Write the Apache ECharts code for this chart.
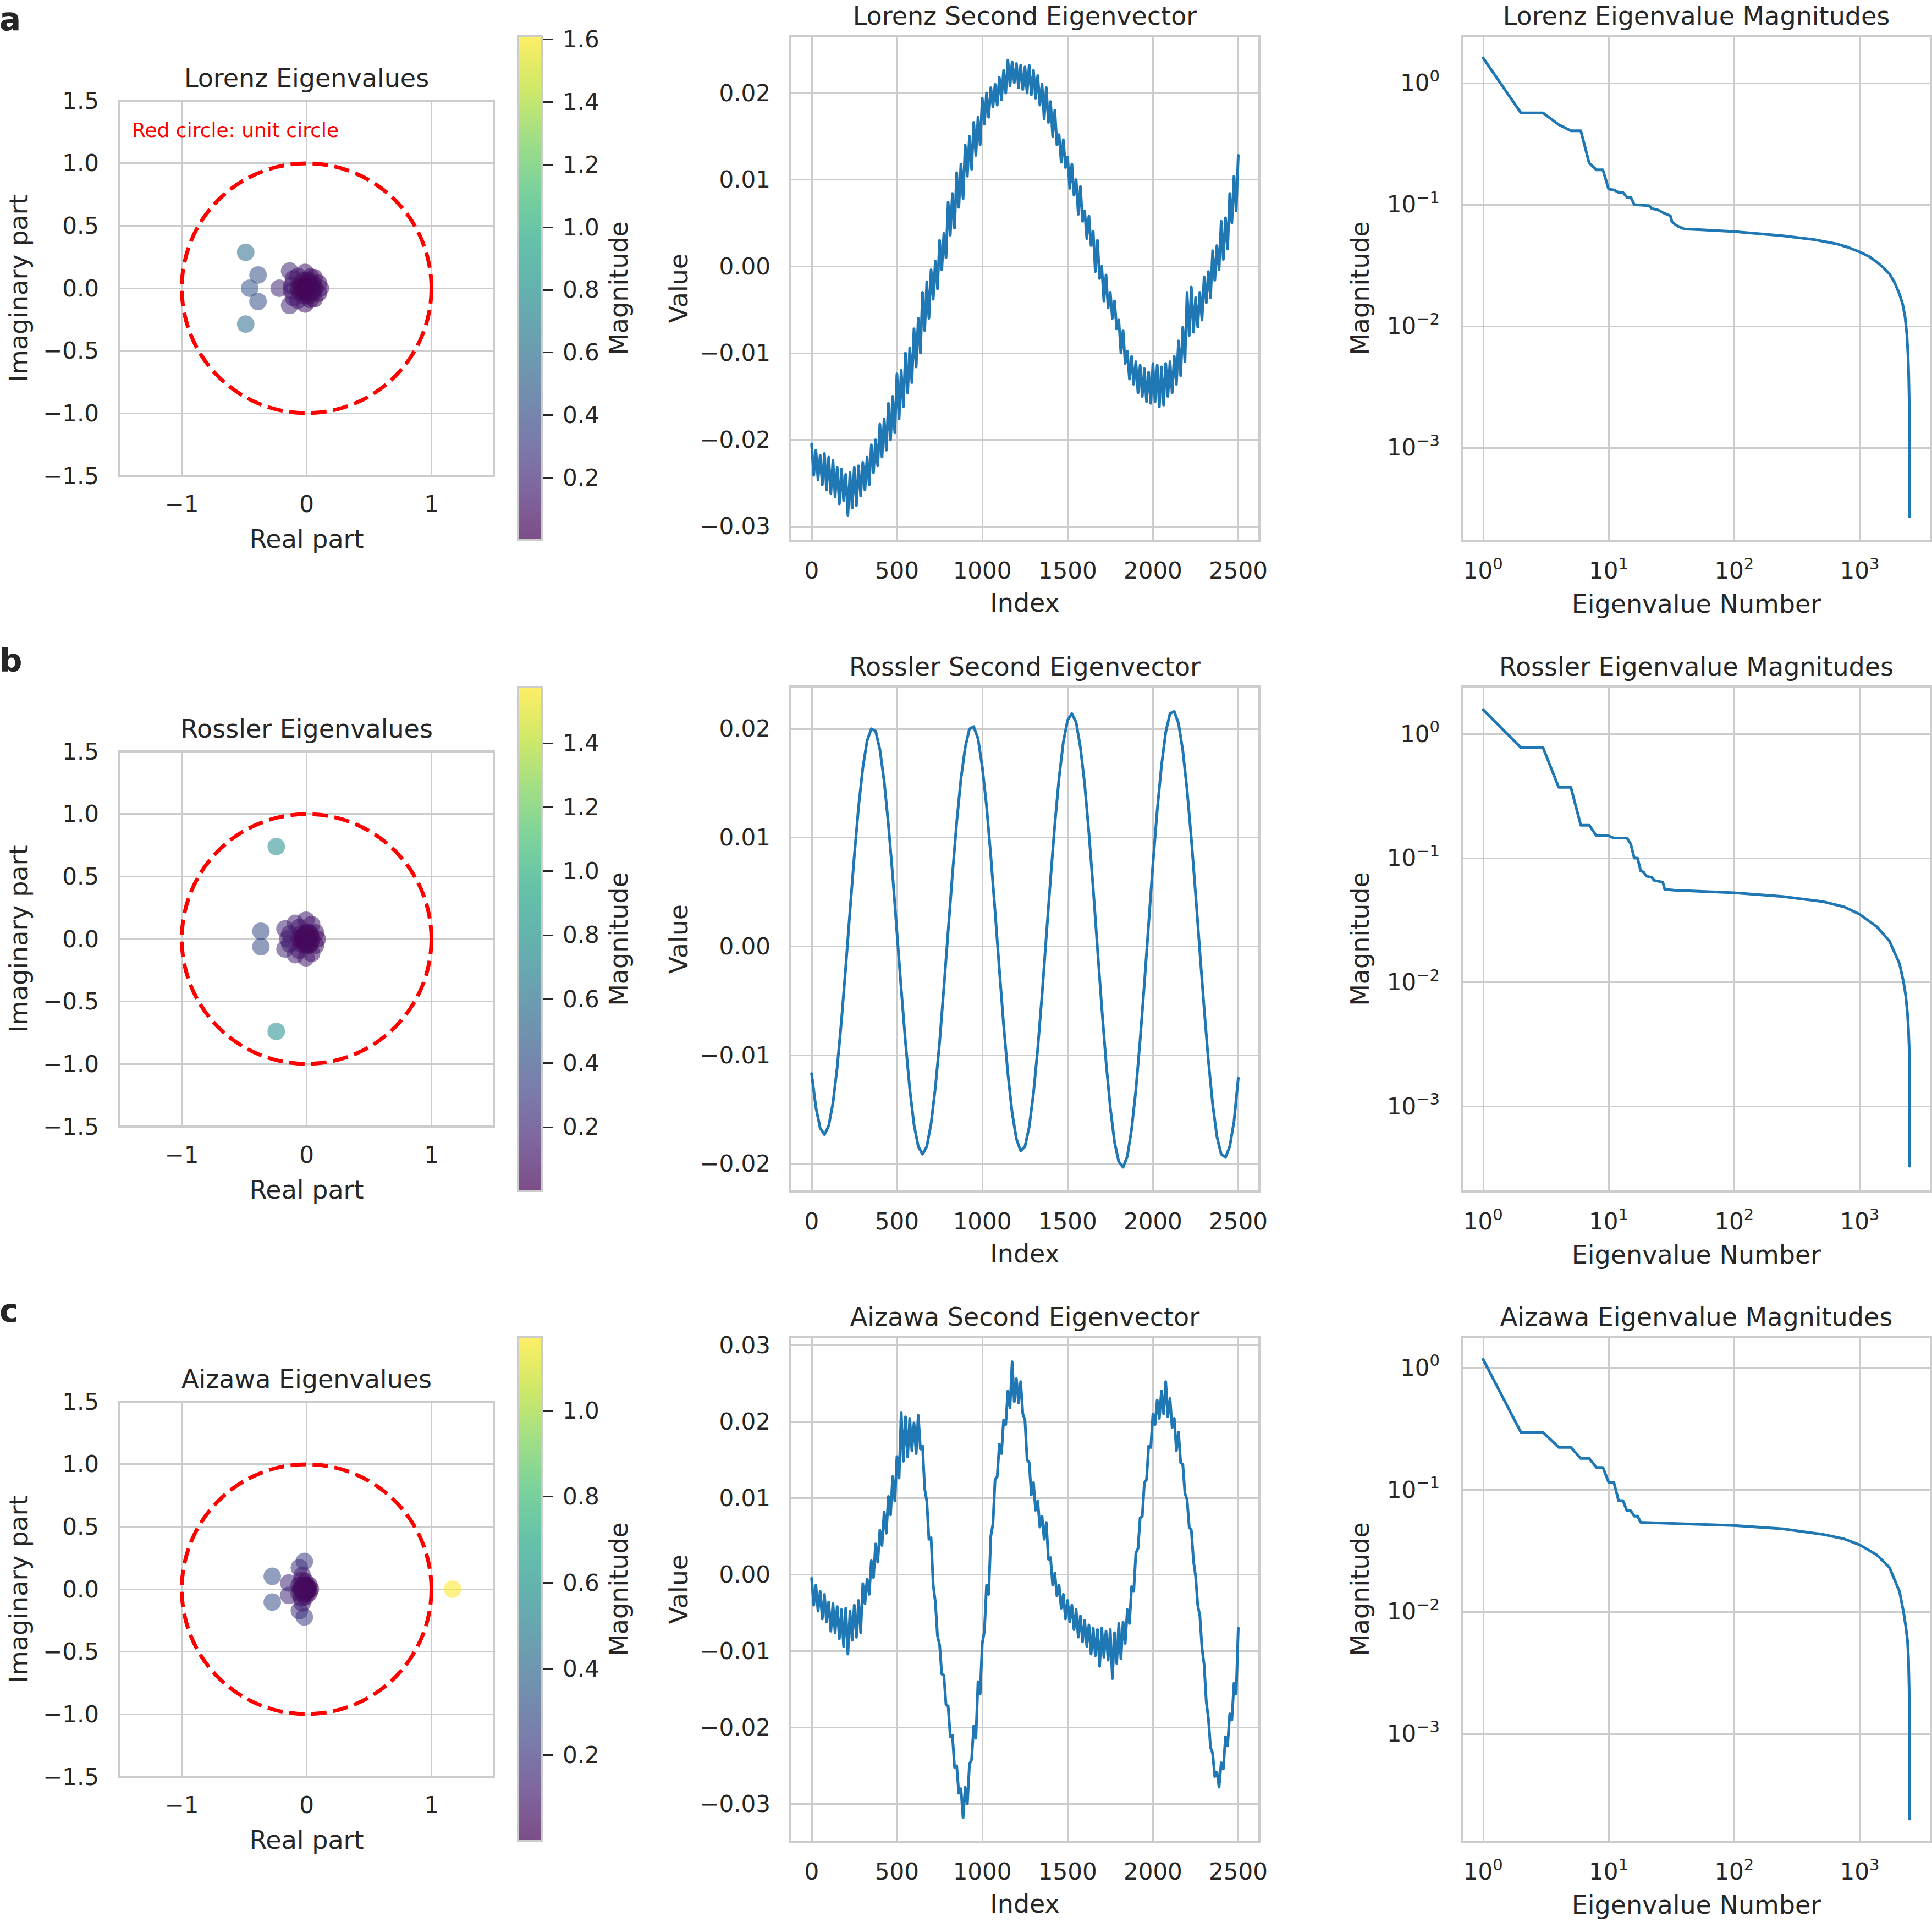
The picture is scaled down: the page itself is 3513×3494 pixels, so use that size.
<!DOCTYPE html>
<html><head><meta charset="utf-8">
<script src="https://cdn.jsdelivr.net/npm/echarts@6/dist/echarts.min.js"></script>
<style>html,body{margin:0;padding:0;background:#fff}#c{width:3513px;height:3494px}</style>
</head><body><div id="c"></div>
<script>
// ---------------- DATA ----------------
const panelLetters = ['a', 'b', 'c'];
const scatterTitles = ['Lorenz Eigenvalues', 'Rossler Eigenvalues', 'Aizawa Eigenvalues'];
const vectorTitles = ['Lorenz Second Eigenvector', 'Rossler Second Eigenvector', 'Aizawa Second Eigenvector'];
const magTitles = ['Lorenz Eigenvalue Magnitudes', 'Rossler Eigenvalue Magnitudes', 'Aizawa Eigenvalue Magnitudes'];
const annotationText = 'Red circle: unit circle';

// eigenvalues [real, imag] visible inside the axes
const lorenzEig = [
[-0.488,0.287],[-0.488,-0.287],[-0.456,0],[-0.389,0.106],[-0.389,-0.106],[-0.219,0],
[-0.136,0.138],[-0.136,-0.138],[-0.012,0.126],[-0.012,-0.126],[-0.105,0.075],[-0.105,-0.075],
[0.095,0.04],[0.095,-0.04],[0.11,0],[0.06,0.085],[0.06,-0.085],[-0.07,0.095],[-0.07,-0.095],
[0.03,0.09],[0.03,-0.09],[-0.12,0.02],[-0.12,-0.02],
[0.065,0],[0.05,0.035],[0.05,-0.035],[0.02,0.06],[0.02,-0.06],[-0.02,0.06],[-0.02,-0.06],
[-0.05,0.035],[-0.05,-0.035],[-0.065,0],[0.03,0],[-0.03,0],[0,0.03],[0,-0.03],[0,0],
[0.04,0.015],[0.04,-0.015],[-0.04,0.015],[-0.04,-0.015],[0.01,0.045],[0.01,-0.045],[-0.01,0.02],[-0.01,-0.02]
];
const rosslerEig = [
[-0.243,0.739],[-0.243,-0.739],[-0.366,0.062],[-0.366,-0.062],
[-0.173,0.08],[-0.173,-0.08],[-0.09,0.125],[-0.09,-0.125],[-0.005,0.15],[-0.005,-0.15],
[0.072,0.05],[0.072,-0.05],[0.04,0.115],[0.04,-0.115],[-0.15,0],[-0.135,0.04],[-0.135,-0.04],
[0.085,0],[-0.06,0.09],[-0.06,-0.09],
[0.04,0],[0.03,0.035],[0.03,-0.035],[0,0.05],[0,-0.05],[-0.04,0.04],[-0.04,-0.04],[-0.06,0],[-0.02,0],
[0.01,0.02],[0.01,-0.02],[-0.03,0.015],[-0.03,-0.015],[0,0],[-0.015,0.035],[-0.015,-0.035],[0.02,0.05],[0.02,-0.05]
];
const aizawaEig = [
[1.169,0],[-0.275,0.103],[-0.275,-0.103],[-0.018,0.222],[-0.018,-0.222],[-0.058,0.172],[-0.058,-0.172],
[-0.143,0.05],[-0.143,-0.05],[-0.035,0.11],[-0.035,-0.11],[-0.04,0.07],[-0.04,-0.07],[-0.06,0.03],[-0.06,-0.03],
[-0.01,0.06],[-0.01,-0.06],[0.02,0.03],[0.02,-0.03],
[-0.02,0],[0,0],[-0.04,0],[0.01,0.01],[0.01,-0.01],[-0.03,0.02],[-0.03,-0.02],[0.03,0],[-0.02,0.04],[-0.02,-0.04],
[0,0.02],[0,-0.02],[-0.05,0],[-0.01,0.03],[-0.01,-0.03]
];

// second eigenvectors (samples every 12.5 / 25 indices)
const lorenzVecStep = 12.5;
const lorenzVec = [
-0.0205,-0.0241,-0.0212,-0.0246, -0.0218,-0.0252,-0.0216,-0.0258, -0.0220,-0.0262,-0.0224,-0.0266,
-0.0232,-0.0274,-0.0234,-0.0270, -0.0240,-0.0287,-0.0238,-0.0279, -0.0232,-0.0276,-0.0230,-0.0265,
-0.0226,-0.0258,-0.0220,-0.0252, -0.0206,-0.0238,-0.0200,-0.0230, -0.0182,-0.0220,-0.0176,-0.0212,
-0.0158,-0.0200,-0.0150,-0.0192, -0.0124,-0.0176,-0.0120,-0.0162, -0.0100,-0.0146,-0.0094,-0.0134,
-0.0072,-0.0116,-0.0060,-0.0100, -0.0030,-0.0074,-0.0018,-0.0060, -0.0004,-0.0038,0.0006,-0.0026,
0.0030,-0.0004,0.0038,0.0010, 0.0074,0.0036,0.0084,0.0044, 0.0108,0.0068,0.0118,0.0078,
0.0140,0.0104,0.0150,0.0112, 0.0166,0.0128,0.0172,0.0140, 0.0194,0.0164,0.0200,0.0172,
0.0206,0.0184,0.0210,0.0186, 0.0218,0.0192,0.0226,0.0200, 0.0238,0.0208,0.0236,0.0212,
0.0234,0.0206,0.0232,0.0204, 0.0230,0.0200,0.0232,0.0198, 0.0226,0.0194,0.0220,0.0186,
0.0210,0.0170,0.0206,0.0166, 0.0190,0.0150,0.0180,0.0140, 0.0152,0.0120,0.0146,0.0114,
0.0126,0.0090,0.0118,0.0082, 0.0100,0.0060,0.0092,0.0052, 0.0064,0.0032,0.0058,0.0024,
0.0040,-0.0006,0.0030,-0.0014, 0.0000,-0.0040,-0.0010,-0.0048, -0.0030,-0.0060,-0.0040,-0.0072,
-0.0062,-0.0100,-0.0074,-0.0112, -0.0098,-0.0130,-0.0104,-0.0136, -0.0110,-0.0146,-0.0114,-0.0150,
-0.0118,-0.0156,-0.0122,-0.0158, -0.0112,-0.0156,-0.0114,-0.0162, -0.0116,-0.0160,-0.0112,-0.0150,
-0.0110,-0.0146,-0.0104,-0.0136, -0.0086,-0.0126,-0.0070,-0.0110, -0.0030,-0.0080,-0.0024,-0.0076,
-0.0036,-0.0070,-0.0030,-0.0062, -0.0012,-0.0042,-0.0006,-0.0036, 0.0018,-0.0016,0.0024,-0.0004,
0.0052,0.0008,0.0056,0.0020, 0.0084,0.0050,0.0104,0.0064, 0.0128
];
const rosslerVecStep = 25;
const rosslerVec = [
-0.0117,-0.0148,-0.0167,-0.0173,-0.0165,-0.0144,-0.0111,-0.0068,-0.0019,0.0033,
0.0083,0.0128,0.0164,0.0189,0.0200,0.0198,0.0181,0.0152,0.0112,0.0065,
0.0013,-0.0039,-0.0088,-0.0131,-0.0164,-0.0184,-0.0191,-0.0184,-0.0163,-0.0130,
-0.0088,-0.0038,0.0014,0.0066,0.0114,0.0154,0.0183,0.0200,0.0202,0.0191,
0.0165,0.0129,0.0083,0.0032,-0.0021,-0.0072,-0.0117,-0.0153,-0.0177,-0.0188,
-0.0184,-0.0166,-0.0135,-0.0094,-0.0045,0.0009,0.0062,0.0112,0.0155,0.0188,
0.0208,0.0214,0.0206,0.0183,0.0149,0.0104,0.0053,-0.0002,-0.0056,-0.0106,
-0.0148,-0.0180,-0.0198,-0.0203,-0.0193,-0.0168,-0.0132,-0.0086,-0.0034,0.0021,
0.0076,0.0125,0.0166,0.0197,0.0214,0.0216,0.0205,0.0180,0.0144,0.0099,
0.0048,-0.0005,-0.0057,-0.0105,-0.0145,-0.0175,-0.0191,-0.0194,-0.0184,-0.0161,
-0.0121
];
const aizawaVecStep = 12.5;
const aizawaVec = [
-0.0005,-0.0040,-0.0014,-0.0048, -0.0022,-0.0058,-0.0026,-0.0062, -0.0036,-0.0074,-0.0038,-0.0076,
-0.0042,-0.0084,-0.0046,-0.0094, -0.0044,-0.0104,-0.0048,-0.0086, -0.0040,-0.0082,-0.0034,-0.0076,
-0.0012,-0.0038,-0.0006,-0.0026, 0.0018,-0.0004,0.0040,0.0016, 0.0058,0.0038,0.0082,0.0054,
0.0102,0.0078,0.0128,0.0096, 0.0154,0.0126,0.0212,0.0148, 0.0206,0.0154,0.0204,0.0162,
0.0198,0.0158,0.0208,0.0164, 0.0168,0.0112,0.0096,0.0046, 0.0048,-0.0014,-0.0036,-0.0080,
-0.0092,-0.0130,-0.0132,-0.0170, -0.0172,-0.0212,-0.0210,-0.0252, -0.0250,-0.0286,-0.0280,-0.0318,
-0.0278,-0.0300,-0.0248,-0.0242, -0.0198,-0.0214,-0.0140,-0.0156, -0.0090,-0.0074,-0.0014,-0.0026,
0.0050,0.0066,0.0124,0.0128, 0.0170,0.0158,0.0202,0.0196, 0.0240,0.0218,0.0278,0.0226,
0.0256,0.0224,0.0252,0.0210, 0.0202,0.0150,0.0146,0.0104, 0.0120,0.0084,0.0096,0.0062,
0.0076,0.0046,0.0068,0.0020, 0.0022,-0.0014,0.0002,-0.0028, -0.0014,-0.0044,-0.0026,-0.0058,
-0.0034,-0.0062,-0.0040,-0.0072, -0.0046,-0.0082,-0.0054,-0.0088, -0.0060,-0.0094,-0.0066,-0.0104,
-0.0070,-0.0106,-0.0072,-0.0120, -0.0070,-0.0108,-0.0074,-0.0112, -0.0072,-0.0136,-0.0076,-0.0116,
-0.0064,-0.0110,-0.0062,-0.0090, -0.0046,-0.0064,-0.0016,-0.0022, 0.0028,0.0034,0.0074,0.0076,
0.0120,0.0124,0.0168,0.0166, 0.0210,0.0196,0.0228,0.0204, 0.0240,0.0210,0.0252,0.0206,
0.0230,0.0192,0.0204,0.0162, 0.0186,0.0146,0.0144,0.0106, 0.0098,0.0062,0.0058,0.0018,
-0.0002,-0.0040,-0.0054,-0.0096, -0.0118,-0.0166,-0.0188,-0.0226, -0.0234,-0.0264,-0.0258,-0.0278,
-0.0246,-0.0254,-0.0212,-0.0224, -0.0182,-0.0190,-0.0142,-0.0156, -0.0070
];

// sorted eigenvalue magnitudes: eigenvalue number and magnitude
const lorenzMagN = [1,2,3,4,5,6,7,8,9,10,11,12,13,14,15,16,21,22,25,27,31,32,35,40,55,100,240,440,650,800,1000,1200,1370,1550,1730,1900,2080,2200,2300,2380,2430,2460,2480,2492,2498,2500];
const lorenzMagV = [1.61,0.568,0.568,0.455,0.405,0.405,0.220,0.193,0.193,0.134,0.132,0.126,0.126,0.115,0.115,0.100,0.098,0.093,0.090,0.086,0.081,0.072,0.067,0.063,0.062,0.0600,0.0555,0.0514,0.0476,0.0447,0.0408,0.0372,0.0337,0.0302,0.0269,0.0228,0.0183,0.0152,0.0120,0.0085,0.0058,0.0040,0.0026,0.0015,0.0007,0.00027];
const rosslerMagN = [1,2,3,4,5,6,7,8,10,11,14,15,16,17,18,19,20,22,23,25,27,28,33,100,243,517,750,1000,1370,1726,2080,2240,2330,2406,2450,2480,2492,2498,2500];
const rosslerMagV = [1.57,0.776,0.776,0.372,0.372,0.184,0.184,0.151,0.151,0.145,0.145,0.130,0.100,0.100,0.079,0.077,0.0715,0.070,0.0662,0.0650,0.0640,0.0560,0.0552,0.0526,0.0491,0.0445,0.0405,0.0353,0.0280,0.0215,0.0141,0.0100,0.0078,0.0056,0.0042,0.0030,0.0018,0.0009,0.00033];
const aizawaMagN = [1,2,3,4,5,6,7,8,9,10,11,12,13,14,15,16,17,18,100,243,517,750,1000,1370,1726,2080,2240,2330,2406,2450,2480,2492,2498,2500];
const aizawaMagV = [1.167,0.295,0.295,0.222,0.222,0.180,0.180,0.152,0.152,0.115,0.115,0.0813,0.0813,0.0671,0.0671,0.0607,0.0607,0.0540,0.0508,0.0478,0.0429,0.0395,0.0353,0.0292,0.0231,0.0146,0.0099,0.0076,0.0058,0.0042,0.0023,0.0013,0.0006,0.0002];

// tick values
const scatterTicksX = [-1, 0, 1];
const scatterTicksY = [-1.5, -1, -0.5, 0, 0.5, 1, 1.5];
const vecTicksX = [0, 500, 1000, 1500, 2000, 2500];
const lorenzVecTicks = [-0.03, -0.02, -0.01, 0, 0.01, 0.02];
const rosslerVecTicks = [-0.02, -0.01, 0, 0.01, 0.02];
const aizawaVecTicks = [-0.03, -0.02, -0.01, 0, 0.01, 0.02, 0.03];
const magTicksX = [1, 10, 100, 1000];
const magTicksY = [0.001, 0.01, 0.1, 1];
const lorenzCbTicks = [0.2, 0.4, 0.6, 0.8, 1.0, 1.2, 1.4, 1.6];
const rosslerCbTicks = [0.2, 0.4, 0.6, 0.8, 1.0, 1.2, 1.4];
const aizawaCbTicks = [0.2, 0.4, 0.6, 0.8, 1.0];

// axis limits
const scatterLim = [-1.5, 1.5];
const vecLimX = [-125, 2624];
const vecLimY = [[-0.03165, 0.0266], [-0.02253, 0.02389], [-0.03492, 0.03108]];
const magLimX = [0.676, 3698];
const magLimY = [[1.718e-4, 2.449], [2.065e-4, 2.41], [1.306e-4, 1.79]];
const colorLim = [[0.00027, 1.61], [0.00033, 1.575], [0.0002, 1.17]];
const unitCircle = [[0, 0, 1]]; // centre (0,0), radius 1

// ---------------- STYLE / LAYOUT ----------------
const FONT = 'DejaVu Sans', TXT = '#262626', GRIDC = '#cccccc', LINEC = '#1f77b4';
const viridis = ['#440154','#482475','#414487','#355f8d','#2a788e','#21918c','#22a884','#44bf70','#7ad151','#bddf26','#fde725'];
const ALPHA = 0.7;
const toRGBA = h => 'rgba(' + parseInt(h.slice(1,3),16) + ',' + parseInt(h.slice(3,5),16) + ',' + parseInt(h.slice(5,7),16) + ',' + ALPHA + ')';
const viridisA = viridis.map(toRGBA);
const viridisStops = viridisA.map((c, i) => ({ offset: i / (viridisA.length - 1), color: c }));
const rowOff = [0, 1183, 2365];
const minus = s => String(s).replace('-', '\u2212');
const logFmt = v => '{b|10}{s|' + minus(Math.round(Math.log10(v))) + '}';
const logRich = {
  b: { fontSize: 42, fontFamily: FONT, color: TXT },
  s: { fontSize: 29, fontFamily: FONT, color: TXT, padding: [0, 0, 26, 0] }
};

const rows = [
  { eig: lorenzEig, vec: lorenzVec, step: lorenzVecStep, vecTicks: lorenzVecTicks, magN: lorenzMagN, magV: lorenzMagV, cbTicks: lorenzCbTicks },
  { eig: rosslerEig, vec: rosslerVec, step: rosslerVecStep, vecTicks: rosslerVecTicks, magN: rosslerMagN, magV: rosslerMagV, cbTicks: rosslerCbTicks },
  { eig: aizawaEig, vec: aizawaVec, step: aizawaVecStep, vecTicks: aizawaVecTicks, magN: aizawaMagN, magV: aizawaMagV, cbTicks: aizawaCbTicks }
];

function axis(o) {
  return {
    type: o.type || 'value', gridIndex: o.grid, min: o.min, max: o.max, logBase: 10,
    axisLine: { show: false },
    axisTick: { show: false, customValues: o.ticks },
    axisLabel: { show: true, customValues: o.ticks, color: TXT, fontSize: 42, fontFamily: FONT, margin: o.margin, formatter: o.fmt, rich: o.rich },
    splitLine: { show: true, lineStyle: { color: GRIDC, width: 3 } },
    name: o.name, nameLocation: 'middle', nameGap: o.gap, nameRotate: o.rotate,
    nameTextStyle: { color: TXT, fontSize: 46, fontFamily: FONT }
  };
}
function frame(left, top, width, height) {
  return { left, top, width, height, show: true, borderColor: GRIDC, borderWidth: 4, backgroundColor: 'transparent', containLabel: false, outerBoundsMode: 'none' };
}
function circleItem(params, api) {
  const c = api.coord([api.value(0), api.value(1)]);
  const e = api.coord([api.value(0) + api.value(2), api.value(1)]);
  return { type: 'circle', shape: { cx: c[0], cy: c[1], r: Math.abs(e[0] - c[0]) },
    style: { fill: 'none', stroke: '#ff0000', lineWidth: 7, lineDash: [28, 12] } };
}
function colorbarItem(params, api) {
  const lo = api.coord([0, api.value(0)]);
  const hi = api.coord([1, api.value(1)]);
  const shape = { x: lo[0], y: hi[1], width: hi[0] - lo[0], height: lo[1] - hi[1] };
  return { type: 'group', children: [
    { type: 'rect', shape, style: { fill: new echarts.graphic.LinearGradient(0, 1, 0, 0, viridisStops) } },
    { type: 'rect', shape, style: { fill: 'none', stroke: GRIDC, lineWidth: 4 } }
  ] };
}
function label(x, y, text, size, align, extra) {
  return { type: 'text', x, y, silent: true, z: 100,
    style: Object.assign({ text, fill: TXT, fontSize: size, fontFamily: FONT, align, verticalAlign: 'middle', textAlign: align, textVerticalAlign: 'middle' }, extra || {}) };
}

const grids = [], xAxes = [], yAxes = [], series = [], visualMaps = [], texts = [];
rows.forEach((r, k) => {
  const off = rowOff[k];
  const g0 = 3 * k, g1 = 3 * k + 1, g2 = 3 * k + 2, gc = 9 + k;
  grids[g0] = frame(217, 183 + off, 681, 682);
  grids[g1] = frame(1437, 65 + off, 853, 918);
  grids[g2] = frame(2658, 65 + off, 853, 918);
  grids[gc] = { left: 942, top: 66 + off, width: 44, height: 916, show: false, containLabel: false, outerBoundsMode: 'none' };

  xAxes[g0] = axis({ grid: g0, min: scatterLim[0], max: scatterLim[1], ticks: scatterTicksX, margin: 30, fmt: v => minus(v), name: 'Real part', gap: 92 });
  yAxes[g0] = axis({ grid: g0, min: scatterLim[0], max: scatterLim[1], ticks: scatterTicksY, margin: 37, fmt: v => minus(v.toFixed(1)), name: 'Imaginary part', gap: 160, rotate: 90 });
  xAxes[g1] = axis({ grid: g1, min: vecLimX[0], max: vecLimX[1], ticks: vecTicksX, margin: 33, fmt: v => String(v), name: 'Index', gap: 90 });
  yAxes[g1] = axis({ grid: g1, min: vecLimY[k][0], max: vecLimY[k][1], ticks: r.vecTicks, margin: 36, fmt: v => minus(v.toFixed(2)), name: 'Value', gap: 180, rotate: 90 });
  xAxes[g2] = axis({ grid: g2, type: 'log', min: magLimX[0], max: magLimX[1], ticks: magTicksX, margin: 27, fmt: logFmt, rich: logRich, name: 'Eigenvalue Number', gap: 92 });
  yAxes[g2] = axis({ grid: g2, type: 'log', min: magLimY[k][0], max: magLimY[k][1], ticks: magTicksY, margin: 40, fmt: logFmt, rich: logRich, name: 'Magnitude', gap: 162, rotate: 90 });
  xAxes[gc] = { type: 'value', gridIndex: gc, min: 0, max: 1, show: false };
  yAxes[gc] = {
    type: 'value', gridIndex: gc, min: colorLim[k][0], max: colorLim[k][1], position: 'right',
    axisLine: { show: true, onZero: false, lineStyle: { color: 'rgba(0,0,0,0)', width: 1 } },
    axisTick: { show: true, inside: false, length: 20, lineStyle: { color: TXT, width: 3 }, customValues: r.cbTicks },
    axisLabel: { show: true, customValues: r.cbTicks, color: TXT, fontSize: 42, fontFamily: FONT, margin: 37, formatter: v => v.toFixed(1) },
    splitLine: { show: false },
    name: 'Magnitude', nameLocation: 'middle', nameGap: 116, nameRotate: 90,
    nameTextStyle: { color: TXT, fontSize: 46, fontFamily: FONT }
  };

  visualMaps.push({ type: 'continuous', show: false, seriesIndex: series.length, dimension: 2,
    min: colorLim[k][0], max: colorLim[k][1], inRange: { color: viridisA } });
  series.push({ type: 'scatter', xAxisIndex: g0, yAxisIndex: g0, symbolSize: 32, z: 3, silent: true,
    itemStyle: { borderWidth: 0 },
    data: r.eig.map(p => [p[0], p[1], Math.hypot(p[0], p[1])]) });
  series.push({ type: 'custom', xAxisIndex: g0, yAxisIndex: g0, z: 4, silent: true, data: unitCircle, renderItem: circleItem });
  series.push({ type: 'line', xAxisIndex: g1, yAxisIndex: g1, showSymbol: false, symbol: 'none', silent: true,
    color: LINEC, lineStyle: { color: LINEC, width: 5, join: 'round', cap: 'round' },
    data: r.vec.map((v, i) => [i * r.step, v]) });
  series.push({ type: 'line', xAxisIndex: g2, yAxisIndex: g2, showSymbol: false, symbol: 'none', silent: true,
    color: LINEC, lineStyle: { color: LINEC, width: 5, join: 'round', cap: 'round' },
    data: r.magN.map((n, i) => [n, r.magV[i]]) });
  series.push({ type: 'custom', xAxisIndex: gc, yAxisIndex: gc, silent: true, z: 5, data: [colorLim[k]], renderItem: colorbarItem });

  texts.push(label(-1, (k === 0 ? 35 : 18) + off, panelLetters[k], 58, 'left', { fontWeight: 'bold' }));
  texts.push(label(557.5, 142 + off, scatterTitles[k], 46, 'center'));
  texts.push(label(1863.5, 29 + off, vectorTitles[k], 46, 'center'));
  texts.push(label(3084.5, 29 + off, magTitles[k], 46, 'center'));
});
texts.push(label(240, 236, annotationText, 36, 'left', { fill: '#ff0000' }));

const chart = echarts.init(document.getElementById('c'), null, { renderer: 'svg' });
chart.setOption({
  backgroundColor: '#ffffff',
  animation: false,
  textStyle: { fontFamily: FONT },
  grid: grids, xAxis: xAxes, yAxis: yAxes,
  visualMap: visualMaps,
  series: series,
  graphic: { elements: texts }
});
</script></body></html>
